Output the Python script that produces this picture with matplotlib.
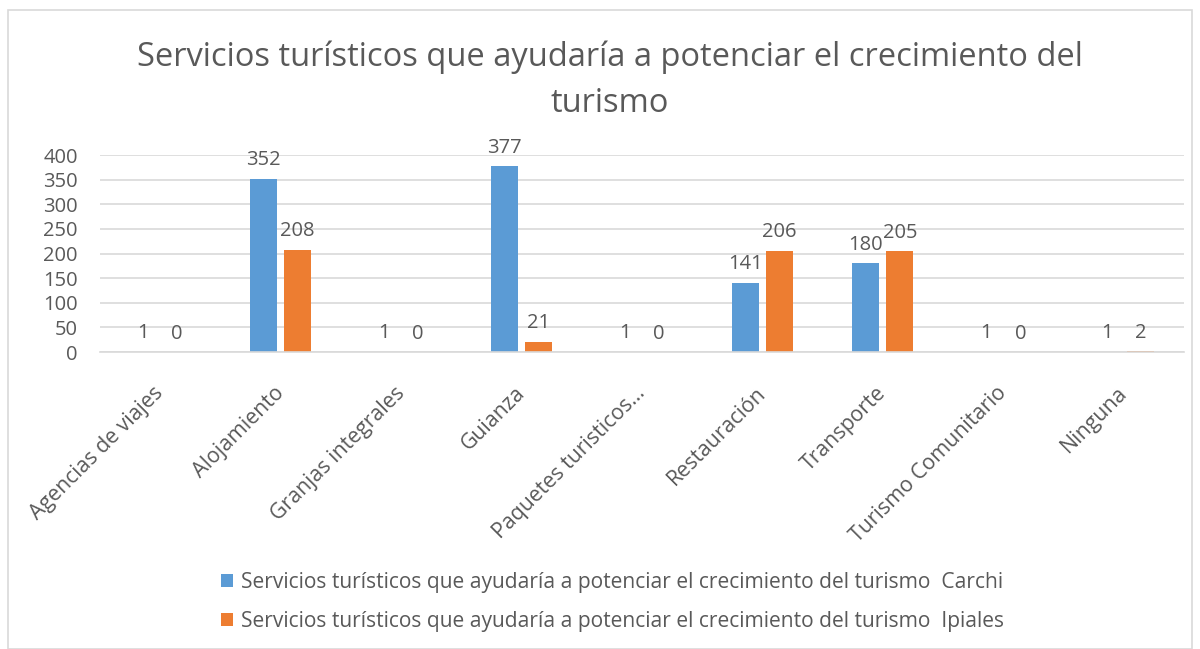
import matplotlib
matplotlib.use("Agg")
import matplotlib.pyplot as plt
import numpy as np
from matplotlib.patches import Rectangle
import matplotlib.transforms as mtransforms

categories = ["Agencias de viajes", "Alojamiento", "Granjas integrales", "Guianza",
              "Paquetes turisticos...", "Restauración", "Transporte",
              "Turismo Comunitario", "Ninguna"]
carchi = [1, 352, 1, 377, 1, 141, 180, 1, 1]
ipiales = [0, 208, 0, 21, 0, 206, 205, 0, 2]
series_names = ["Servicios turísticos que ayudaría a potenciar el crecimiento del turismo  Carchi",
                "Servicios turísticos que ayudaría a potenciar el crecimiento del turismo  Ipiales"]
title = "Servicios turísticos que ayudaría a potenciar el crecimiento del\nturismo"
yticks = [0, 50, 100, 150, 200, 250, 300, 350, 400]

plt.rcParams['font.family'] = ['Open Sans', 'DejaVu Sans']
txt = "#595959"
blue = "#5b9bd5"
orange = "#ed7d31"

fig = plt.figure(figsize=(12, 6.49), dpi=100)
fig.patches.append(Rectangle((8/1200, 0), 1184/1200, 1 - 10/649, transform=fig.transFigure,
                             fill=False, edgecolor="#d9d9d9", linewidth=1.2))
ax = fig.add_axes([100/1200, 1 - 352/649, 1084/1200, 197/649])

x = np.arange(len(categories))
w = 0.224
off = 0.141
b1 = ax.bar(x - off, carchi, w, color=blue, label=series_names[0])
b2 = ax.bar(x + off, ipiales, w, color=orange, label=series_names[1])

for bars, vals in ((b1, carchi), (b2, ipiales)):
    for r, v in zip(bars, vals):
        ax.annotate(str(v), (r.get_x() + r.get_width() / 2, v), xytext=(0, 6),
                    textcoords="offset points", ha="center", va="bottom",
                    fontsize=14.5, color=txt)

ax.set_xlim(-0.5, len(categories) - 0.5)
ax.set_ylim(0, 400)
ax.set_yticks(yticks)
ax.set_yticklabels([str(t) for t in yticks], fontsize=14.5, color=txt)
ax.yaxis.grid(True, color="#d9d9d9", linewidth=1.2)
ax.set_axisbelow(True)
for s in ["top", "right", "left"]:
    ax.spines[s].set_visible(False)
ax.spines["bottom"].set_color("#d9d9d9")
ax.spines["bottom"].set_linewidth(1.2)
ax.tick_params(axis="both", length=0)
ax.tick_params(axis="y", pad=16)
ax.set_xticks(x)
ax.set_xticklabels(categories, rotation=45, ha="right", rotation_mode="anchor",
                   fontsize=15.3, color=txt)
ax.tick_params(axis="x", pad=22)
shift = mtransforms.ScaledTranslation(-7/100, 0, fig.dpi_scale_trans)
for lbl in ax.get_xticklabels():
    lbl.set_transform(lbl.get_transform() + shift)

fig.text(610/1200, 1 - 80/649, title, ha="center", va="center", fontsize=23.5,
         color=txt, linespacing=1.5)

leg = fig.legend(handles=[b1, b2], labels=series_names, loc="upper left",
                 bbox_to_anchor=(202/1200, 1 - 553/649), frameon=False,
                 fontsize=15.1, labelcolor=txt, handlelength=0.6, handleheight=0.6,
                 handletextpad=0.35, labelspacing=0.85)

fig.savefig("out.png", dpi=100)
